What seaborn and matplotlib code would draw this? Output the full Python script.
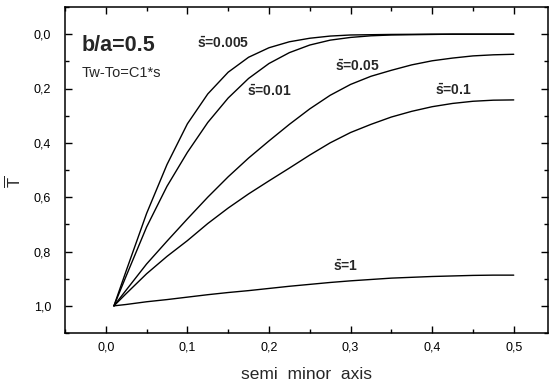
import numpy as np
import pandas as pd
import matplotlib
matplotlib.use("Agg")
import matplotlib.pyplot as plt
from matplotlib.ticker import MultipleLocator, FuncFormatter
import seaborn as sns

# ---- data ----
x_axis = [0.01, 0.025, 0.05, 0.075, 0.1, 0.125, 0.15, 0.175, 0.2, 0.225, 0.25,
          0.275, 0.3, 0.325, 0.35, 0.375, 0.4, 0.425, 0.45, 0.475, 0.5]
t_s0005 = [1.0, 0.871, 0.66, 0.48, 0.33, 0.22, 0.14, 0.085, 0.05, 0.028, 0.015,
           0.007, 0.003, 0.002, 0.001, 0.0005, 0.0, 0.0, 0.0, 0.0, 0.0]
t_s001 = [1.0, 0.89, 0.71, 0.56, 0.435, 0.325, 0.235, 0.163, 0.108, 0.068, 0.04,
          0.022, 0.012, 0.006, 0.003, 0.002, 0.001, 0.0, 0.0, 0.0, 0.0]
t_s005 = [1.0, 0.942, 0.846, 0.762, 0.68, 0.6, 0.525, 0.456, 0.393, 0.332, 0.275,
          0.225, 0.185, 0.155, 0.133, 0.113, 0.098, 0.088, 0.08, 0.076, 0.074]
t_s01 = [1.0, 0.955, 0.882, 0.818, 0.76, 0.697, 0.64, 0.588, 0.54, 0.493, 0.445,
         0.40, 0.362, 0.332, 0.305, 0.284, 0.267, 0.255, 0.247, 0.243, 0.242]
t_s1 = [1.0, 0.995, 0.985, 0.977, 0.968, 0.959, 0.951, 0.944, 0.936, 0.928, 0.921,
        0.914, 0.908, 0.903, 0.898, 0.895, 0.892, 0.89, 0.888, 0.887, 0.887]
series_names = ["0.005", "0.01", "0.05", "0.1", "1"]
series_values = [t_s0005, t_s001, t_s005, t_s01, t_s1]
x_ticks = [0.0, 0.1, 0.2, 0.3, 0.4, 0.5]
y_ticks = [0.0, 0.2, 0.4, 0.6, 0.8, 1.0]

df = pd.concat([pd.DataFrame({"x": x_axis, "T": v, "s": n})
                for n, v in zip(series_names, series_values)], ignore_index=True)

sns.set_style("ticks")
plt.rcParams["font.family"] = ["Liberation Sans", "DejaVu Sans"]
plt.rcParams["mathtext.fontset"] = "custom"
plt.rcParams["mathtext.rm"] = "Liberation Sans"
plt.rcParams["mathtext.bf"] = "Liberation Sans:bold"
plt.rcParams["mathtext.it"] = "Liberation Sans:italic"

fig = plt.figure(figsize=(5.54, 3.88), dpi=100)
ax = fig.add_axes([65/554, 1-333/388, (548-65)/554, (333-7)/388])

sns.lineplot(data=df, x="x", y="T", hue="s", palette=["black"]*5,
             estimator=None, sort=False, linewidth=1.0, legend=False, ax=ax)
for ln in ax.lines:
    ln.set_solid_joinstyle("round")

ax.set_xlim(-0.05, 0.542)
ax.set_ylim(1.1, -0.1)
ax.set_xticks(x_ticks)
ax.set_yticks(y_ticks)
ax.xaxis.set_minor_locator(MultipleLocator(0.05))
ax.yaxis.set_minor_locator(MultipleLocator(0.1))
fmt = FuncFormatter(lambda v, p: f"{v:.1f}".replace(".", ","))
ax.xaxis.set_major_formatter(fmt)
ax.yaxis.set_major_formatter(fmt)
ax.tick_params(which="both", direction="in", top=True, right=True,
               width=1.0, colors="black", labelsize=9)
ax.tick_params(which="major", length=5)
ax.tick_params(which="minor", length=3)
ax.tick_params(axis="x", which="major", pad=6)
ax.tick_params(axis="y", which="major", pad=10)
for sp in ax.spines.values():
    sp.set_visible(True)
    sp.set_linewidth(1.1)
    sp.set_color("black")

ax.set_xlabel("semi  minor  axis", fontsize=12.5, labelpad=10)
ax.set_ylabel(r"$\overline{\mathrm{T}}$", fontsize=12, va="center")
ax.yaxis.set_label_coords((13 - 65) / 483, 0.463)

ax.text(-0.0294, 0.0624, "b/a=0.5", fontsize=15.5, fontweight="bold", va="baseline")
ax.text(-0.0294, 0.158, "Tw-To=C1*s", fontsize=10.5, va="baseline")
labels = [(0.1115, 0.051, "0.005"), (0.1728, 0.229, "0.01"),
          (0.2806, 0.136, "0.05"), (0.403, 0.224, "0.1"), (0.2786, 0.872, "1")]
for lx, ly, name in labels:
    ax.text(lx, ly, r"$\mathbf{\bar{s}}$=" + name, fontsize=10,
            fontweight="bold", va="baseline")

fig.savefig("out.png", dpi=100)
